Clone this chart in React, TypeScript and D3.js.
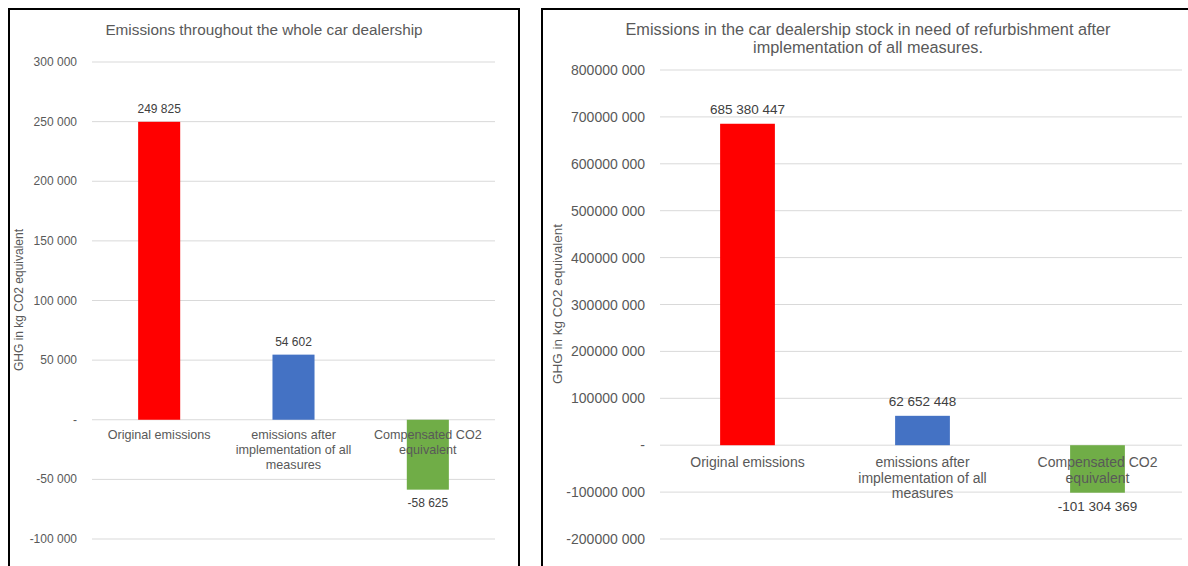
import React from "react";
import * as d3 from "d3";

const categories = [
  ["Original emissions"],
  ["emissions after", "implementation of all", "measures"],
  ["Compensated CO2", "equivalent"],
];
const leftValues = [249825, 54602, -58625];
const leftValueLabels = ["249 825", "54 602", "-58 625"];
const leftTicks = [300000, 250000, 200000, 150000, 100000, 50000, 0, -50000, -100000];
const leftTickLabels = ["300 000", "250 000", "200 000", "150 000", "100 000", "50 000", "-", "-50 000", "-100 000"];

const rightValues = [685380447, 62652448, -101304369];
const rightValueLabels = ["685 380 447", "62 652 448", "-101 304 369"];
const rightTicks = [800000000, 700000000, 600000000, 500000000, 400000000, 300000000, 200000000, 100000000, 0, -100000000, -200000000];
const rightTickLabels = ["800000 000", "700000 000", "600000 000", "500000 000", "400000 000", "300000 000", "200000 000", "100000 000", "-", "-100000 000", "-200000 000"];

const barColors = ["#FF0000", "#4472C4", "#70AD47"];
const leftTitle = ["Emissions throughout the whole car dealership"];
const rightTitle = ["Emissions in the car dealership stock in need of refurbishment after", "implementation of all measures."];
const yLabel = "GHG in kg CO2 equivalent";

const FONT = "'Liberation Sans', Arial, sans-serif";
const TXT = "#595959";

type PanelProps = {
  values: number[];
  valueLabels: string[];
  ticks: number[];
  tickLabels: string[];
  title: string[];
  x0: number; x1: number; gridEnd: number;
  yTop: number; yBottom: number; vTop: number; vBottom: number;
  tickX: number; fs: number; catFs: number; valFs: number; yFs: number; titleFs: number;
  titleY: number; titleX: number; titleLH: number;
  yLabelX: number; yLabelY: number; catY: number; catLH: number; labelOff: number;
};

function Panel(p: PanelProps) {
  const x = d3.scaleBand<number>().domain([0, 1, 2]).range([p.x0, p.x1]).paddingInner(0.687).paddingOuter(0.3435);
  const y = d3.scaleLinear().domain([p.vBottom, p.vTop]).range([p.yBottom, p.yTop]);
  return (
    <g fontFamily={FONT}>
      {p.title.map((t, i) => (
        <text key={i} x={p.titleX} y={p.titleY + i * p.titleLH} textAnchor="middle" dominantBaseline="central" fontSize={p.titleFs} fill={TXT}>{t}</text>
      ))}
      {p.ticks.map((t, i) => (
        <g key={i}>
          <line x1={p.x0} x2={p.gridEnd} y1={y(t)} y2={y(t)} stroke="#D9D9D9" strokeWidth={1} />
          <text x={p.tickX} y={y(t)} textAnchor="end" dominantBaseline="central" fontSize={p.fs} fill={TXT}>{p.tickLabels[i]}</text>
        </g>
      ))}
      {p.values.map((v, i) => (
        <rect key={i} x={x(i)} width={x.bandwidth()} y={y(Math.max(0, v))} height={Math.abs(y(v) - y(0))} fill={barColors[i]} />
      ))}
      {p.values.map((v, i) => (
        <text key={i} x={(x(i) as number) + x.bandwidth() / 2} y={v >= 0 ? y(v) - p.labelOff : y(v) + p.labelOff} textAnchor="middle" dominantBaseline="central" fontSize={p.valFs} fill="#404040">{p.valueLabels[i]}</text>
      ))}
      {categories.map((lines, i) => (
        <text key={i} textAnchor="middle" fontSize={p.catFs} fill={TXT}>
          {lines.map((l, j) => (
            <tspan key={j} x={(x(i) as number) + x.bandwidth() / 2} y={p.catY + j * p.catLH} dominantBaseline="central">{l}</tspan>
          ))}
        </text>
      ))}
      <text transform={`translate(${p.yLabelX},${p.yLabelY}) rotate(-90)`} textAnchor="middle" dominantBaseline="central" fontSize={p.yFs} fill={TXT}>{yLabel}</text>
    </g>
  );
}

export default function App() {
  return (
    <svg width={1188} height={566} style={{ position: "absolute", left: 0, top: 0, background: "#fff" }}>
      <rect x={0} y={0} width={1188} height={566} fill="#fff" />
      <rect x={9} y={9} width={510} height={620} fill="none" stroke="#000" strokeWidth={2} />
      <rect x={542} y={9} width={700} height={620} fill="none" stroke="#000" strokeWidth={2} />
      <Panel values={leftValues} valueLabels={leftValueLabels} ticks={leftTicks} tickLabels={leftTickLabels} title={leftTitle}
        x0={92} x1={495} gridEnd={495} yTop={62} yBottom={539} vTop={300000} vBottom={-100000}
        tickX={77} fs={12} catFs={12.6} valFs={12} yFs={12} titleFs={15.3} titleY={29} titleX={264} titleLH={18} yLabelX={19} yLabelY={300}
        catY={435} catLH={15} labelOff={13} />
      <Panel values={rightValues} valueLabels={rightValueLabels} ticks={rightTicks} tickLabels={rightTickLabels} title={rightTitle}
        x0={660} x1={1185} gridEnd={1182} yTop={70} yBottom={539} vTop={800000000} vBottom={-200000000}
        tickX={645} fs={14} catFs={14} valFs={13.5} yFs={13.5} titleFs={16.3} titleY={29} titleX={868} titleLH={18} yLabelX={557} yLabelY={304}
        catY={462} catLH={15.5} labelOff={14} />
    </svg>
  );
}
